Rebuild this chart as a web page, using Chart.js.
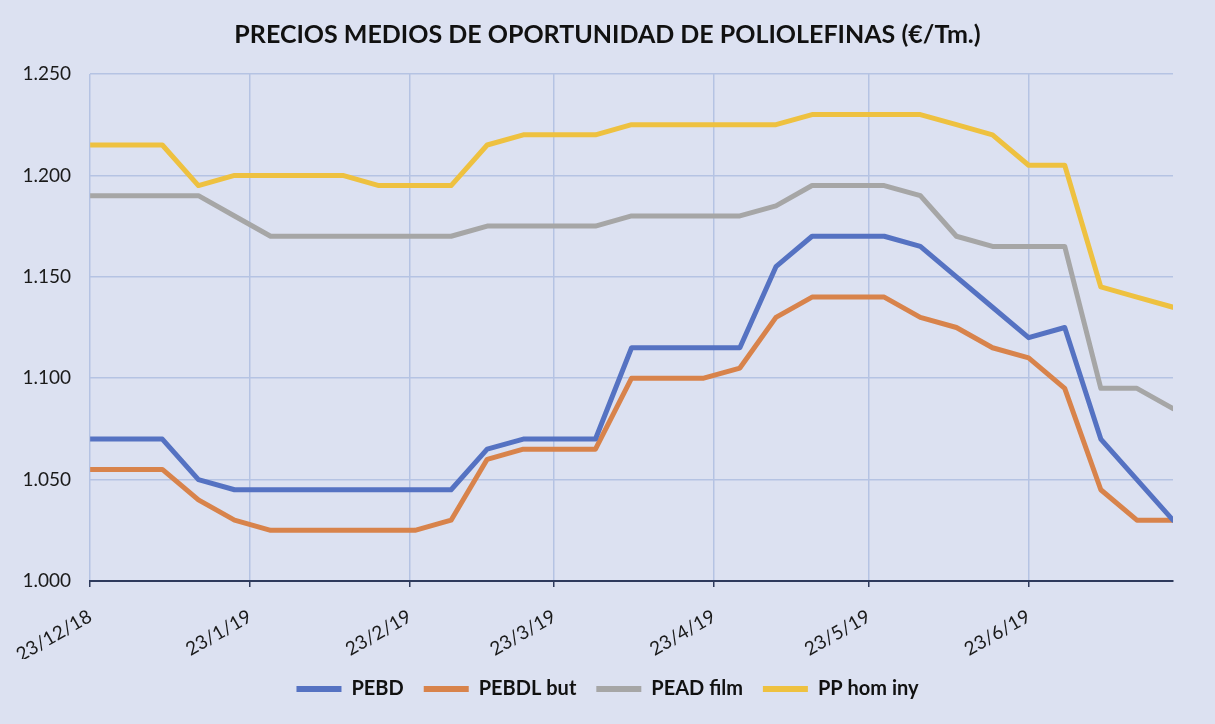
<!DOCTYPE html>
<html lang="es">
<head>
<meta charset="utf-8">
<title>Precios medios de oportunidad de poliolefinas</title>
<script src="https://cdn.jsdelivr.net/npm/chart.js@4.4.1/dist/chart.umd.min.js"></script>
<style>
  html, body { margin: 0; padding: 0; background: #dce1f1; }
  #contenedor { width: 1215px; height: 724px; }
</style>
</head>
<body>
<div id="contenedor"><canvas id="grafico"></canvas></div>
<script>
// Fechas semanales de cada precio
const fechas = [
  '2018-12-23', '2018-12-30', '2019-01-06', '2019-01-13', '2019-01-20', '2019-01-27',
  '2019-02-03', '2019-02-10', '2019-02-17', '2019-02-24', '2019-03-03', '2019-03-10',
  '2019-03-17', '2019-03-24', '2019-03-31', '2019-04-07', '2019-04-14', '2019-04-21',
  '2019-04-28', '2019-05-05', '2019-05-12', '2019-05-19', '2019-05-26', '2019-06-02',
  '2019-06-09', '2019-06-16', '2019-06-23', '2019-06-30', '2019-07-07', '2019-07-14',
  '2019-07-21'
];

// Marcas del eje X
const fechasEje = ['2018-12-23', '2019-01-23', '2019-02-23', '2019-03-23', '2019-04-23', '2019-05-23', '2019-06-23'];
const etiquetasEje = ['23/12/18', '23/1/19', '23/2/19', '23/3/19', '23/4/19', '23/5/19', '23/6/19'];
const valoresEjeY = [1000, 1050, 1100, 1150, 1200, 1250];

// Precios (€/Tm.)
const pebd = [1070, 1070, 1070, 1050, 1045, 1045, 1045, 1045, 1045, 1045, 1045, 1065, 1070, 1070, 1070, 1115,
  1115, 1115, 1115, 1155, 1170, 1170, 1170, 1165, 1150, 1135, 1120, 1125, 1070, 1050, 1030];
const pebdlBut = [1055, 1055, 1055, 1040, 1030, 1025, 1025, 1025, 1025, 1025, 1030, 1060, 1065, 1065, 1065, 1100,
  1100, 1100, 1105, 1130, 1140, 1140, 1140, 1130, 1125, 1115, 1110, 1095, 1045, 1030, 1030];
const peadFilm = [1190, 1190, 1190, 1190, 1180, 1170, 1170, 1170, 1170, 1170, 1170, 1175, 1175, 1175, 1175, 1180,
  1180, 1180, 1180, 1185, 1195, 1195, 1195, 1190, 1170, 1165, 1165, 1165, 1095, 1095, 1085];
const ppHomIny = [1215, 1215, 1215, 1195, 1200, 1200, 1200, 1200, 1195, 1195, 1195, 1215, 1220, 1220, 1220, 1225,
  1225, 1225, 1225, 1225, 1230, 1230, 1230, 1230, 1225, 1220, 1205, 1205, 1145, 1140, 1135];

const fuente = 'Lato, "Open Sans", sans-serif';

function dias(f) {
  return (Date.parse(f) - Date.parse(fechas[0])) / 86400000;
}

function puntos(valores) {
  return valores.map((v, i) => ({ x: dias(fechas[i]), y: v }));
}

function miles(v) {
  const s = String(v);
  return s.slice(0, -3) + '.' + s.slice(-3);
}

function serie(nombre, valores, color) {
  return {
    label: nombre,
    data: puntos(valores),
    borderColor: color,
    backgroundColor: color,
    borderWidth: 5,
    pointRadius: 0,
    tension: 0,
    borderJoinStyle: 'round',
    borderCapStyle: 'round'
  };
}

const ctx = document.getElementById('grafico').getContext('2d');
new Chart(ctx, {
  type: 'line',
  data: {
    datasets: [
      serie('PEBD', pebd, '#5572c2'),
      serie('PEBDL but', pebdlBut, '#d8834b'),
      serie('PEAD film', peadFilm, '#a6a6a6'),
      serie('PP hom iny', ppHomIny, '#eec140')
    ]
  },
  options: {
    responsive: true,
    maintainAspectRatio: false,
    animation: false,
    layout: { padding: { left: 0, right: 0, top: 0, bottom: 15 } },
    scales: {
      x: {
        type: 'linear',
        min: 0,
        max: dias(fechas[fechas.length - 1]),
        afterBuildTicks: function(eje) {
          eje.ticks = fechasEje.map(f => ({ value: dias(f) }));
        },
        afterFit: function(eje) { eje.height = 78; },
        grid: {
          color: '#b5c3e3',
          lineWidth: 1.5,
          tickColor: '#2e3a5c',
          tickLength: 6
        },
        border: { color: '#2e3a5c', width: 2 },
        ticks: {
          autoSkip: false,
          minRotation: 30,
          maxRotation: 30,
          padding: 18,
          color: '#1a1a1a',
          font: { family: fuente, size: 19 },
          callback: function(valor, i) { return etiquetasEje[i]; }
        }
      },
      y: {
        min: 1000,
        max: 1250,
        afterBuildTicks: function(eje) {
          eje.ticks = valoresEjeY.map(v => ({ value: v }));
        },
        afterFit: function(eje) { eje.width = 89; },
        grid: { color: '#b5c3e3', lineWidth: 1.5, drawTicks: false },
        border: { display: false },
        ticks: {
          padding: 19,
          color: '#1a1a1a',
          font: { family: fuente, size: 19 },
          callback: function(valor) { return miles(valor); }
        }
      },
      // margen derecho vacío, para que título y leyenda queden centrados
      margen: {
        type: 'linear',
        position: 'right',
        afterFit: function(eje) { eje.width = 42; },
        grid: { display: false },
        border: { display: false },
        ticks: { display: false }
      }
    },
    plugins: {
      title: {
        display: true,
        text: 'PRECIOS MEDIOS DE OPORTUNIDAD DE POLIOLEFINAS (€/Tm.)',
        color: '#111',
        font: { family: fuente, size: 25, weight: 'bold' },
        padding: { top: 20, bottom: 24 }
      },
      legend: {
        position: 'bottom',
        labels: {
          color: '#111',
          boxWidth: 45,
          boxHeight: 6,
          padding: 20,
          font: { family: fuente, size: 20, weight: 'bold' },
          generateLabels: function(chart) {
            const items = Chart.defaults.plugins.legend.labels.generateLabels(chart);
            items.forEach(it => { it.lineWidth = 0; it.strokeStyle = 'transparent'; });
            return items;
          }
        }
      },
      tooltip: { enabled: false }
    }
  }
});
</script>
</body>
</html>
